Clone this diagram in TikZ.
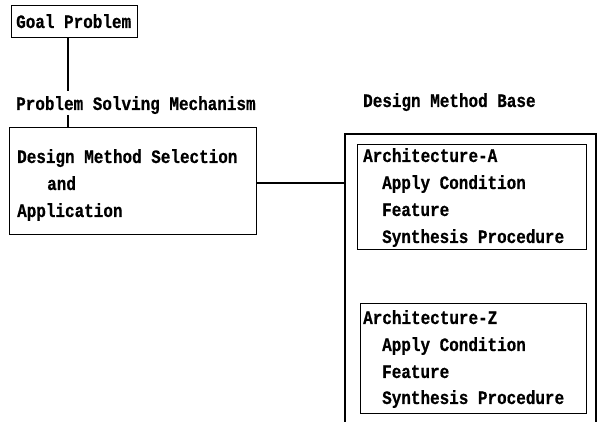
\documentclass[tikz,border=0pt]{standalone}
\usepackage{fontspec}
\setmonofont[FakeStretch=0.84,FakeBold=0.6]{Liberation Mono}
\begin{document}
\begin{tikzpicture}[x=1pt,y=-1pt,
  box/.style={draw,line width=1.3pt,inner sep=0pt,anchor=north west},
  lbl/.style={anchor=base west,inner sep=0pt,font=\fontsize{19}{19}\selectfont\ttfamily\bfseries},
  conn/.style={line width=1.3pt}]
\useasboundingbox (0,0) rectangle (598,422);
% Goal problem
\node[box,minimum width=126pt,minimum height=32pt] (goal) at (11,5) {};
\node[lbl] (goalt) at (16,28) {Goal Problem};
\node[lbl] (psm) at (16,110) {Problem Solving Mechanism};
% Design method selection box
\node[box,minimum width=247pt,minimum height=107pt] (dms) at (9,127) {};
\node[lbl] (dms1) at (17,163) {Design Method Selection};
\node[lbl] (dms2) at (47,190) {and};
\node[lbl] (dms3) at (17,217) {Application};
% vertical connectors
\coordinate (vx) at (68,0);
\draw[conn] (goal.south -| vx) -- (vx |- 0,91);
\draw[conn] (vx |- 0,115) -- (dms.north -| vx);
% design method base
\node[lbl] (dmb) at (363,107) {Design Method Base};
\coordinate (ob1) at (345,430);
\coordinate (ob2) at (345,134);
\coordinate (ob3) at (596,134);
\coordinate (ob4) at (596,430);
\draw[conn] (ob1) -- (ob2) -- (ob3) -- (ob4);
\draw[conn] (dms.east |- 0,183) -- (ob2 |- 0,183);
% Architecture A
\node[box,minimum width=229pt,minimum height=105pt] (archA) at (357,144) {};
\node[lbl] (a1) at (363,162) {Architecture-A};
\node[lbl] (a2) at (382,189) {Apply Condition};
\node[lbl] (a3) at (382,216) {Feature};
\node[lbl] (a4) at (382,243) {Synthesis Procedure};
% Architecture Z
\node[box,minimum width=226pt,minimum height=110pt] (archZ) at (360,303) {};
\node[lbl] (z1) at (363,324) {Architecture-Z};
\node[lbl] (z2) at (382,351) {Apply Condition};
\node[lbl] (z3) at (382,378) {Feature};
\node[lbl] (z4) at (382,404) {Synthesis Procedure};
\end{tikzpicture}
\end{document}
